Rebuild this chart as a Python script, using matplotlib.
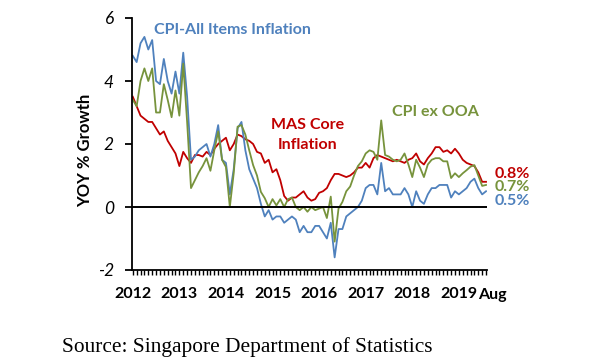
import matplotlib
matplotlib.use("Agg")
import matplotlib.pyplot as plt
import numpy as np

# monthly YoY %, Jan 2012 .. Aug 2019
cpi_all = [4.8, 4.6, 5.2, 5.4, 5.0, 5.3, 4.0, 3.9, 4.7, 4.0, 3.6, 4.3,
           3.6, 4.9, 3.5, 1.5, 1.6, 1.8, 1.9, 2.0, 1.6, 2.0, 2.6, 1.5,
           1.4, 0.4, 1.2, 2.5, 2.7, 1.8, 1.2, 0.9, 0.6, 0.1, -0.3, -0.1,
           -0.4, -0.3, -0.3, -0.5, -0.4, -0.3, -0.4, -0.8, -0.6, -0.8, -0.8, -0.6,
           -0.6, -0.8, -1.0, -0.5, -1.6, -0.7, -0.7, -0.3, -0.2, -0.1, 0.0, 0.2,
           0.6, 0.7, 0.7, 0.4, 1.4, 0.5, 0.6, 0.4, 0.4, 0.4, 0.6, 0.4,
           0.0, 0.5, 0.2, 0.1, 0.4, 0.6, 0.6, 0.7, 0.7, 0.7, 0.3, 0.5,
           0.4, 0.5, 0.6, 0.8, 0.9, 0.6, 0.4, 0.5]
mas_core = [3.5, 3.2, 2.9, 2.8, 2.7, 2.7, 2.5, 2.3, 2.4, 2.1, 1.9, 1.7,
            1.3, 1.75, 1.55, 1.4, 1.65, 1.65, 1.6, 1.75, 1.65, 1.85, 2.0, 2.1,
            2.2, 1.8, 2.0, 2.3, 2.25, 2.15, 2.1, 2.0, 1.75, 1.7, 1.4, 1.5,
            1.1, 1.2, 0.85, 0.35, 0.2, 0.3, 0.3, 0.4, 0.5, 0.3, 0.2, 0.25,
            0.45, 0.5, 0.6, 0.85, 1.05, 1.05, 1.0, 0.95, 1.0, 1.1, 1.25, 1.25,
            1.4, 1.25, 1.55, 1.65, 1.6, 1.55, 1.5, 1.45, 1.5, 1.45, 1.4, 1.5,
            1.55, 1.7, 1.45, 1.35, 1.55, 1.7, 1.9, 1.9, 1.75, 1.8, 1.7, 1.85,
            1.7, 1.5, 1.4, 1.35, 1.3, 1.1, 0.8, 0.8]
cpi_ex_ooa = [3.4, 3.2, 4.0, 4.4, 4.0, 4.4, 3.0, 3.0, 3.9, 3.4, 2.85, 3.7,
              2.9, 4.55, 2.7, 0.6, 0.85, 1.1, 1.3, 1.55, 1.15, 1.8, 2.4, 1.5,
              1.27, 0.0, 1.07, 2.55, 2.6, 2.3, 1.8, 1.33, 1.0, 0.48, 0.28, 0.0,
              0.25, 0.05, 0.25, 0.0, 0.25, 0.3, 0.0, -0.1, 0.0, -0.15, 0.0, -0.1,
              -0.05, 0.0, -0.35, 0.33, -1.1, -0.05, 0.16, 0.5, 0.65, 1.0, 1.3, 1.45,
              1.7, 1.8, 1.75, 1.5, 2.75, 1.65, 1.6, 1.5, 1.45, 1.5, 1.7, 1.35,
              0.95, 1.5, 1.25, 0.95, 1.35, 1.5, 1.55, 1.55, 1.45, 1.45, 0.92, 1.07,
              0.95, 1.07, 1.17, 1.28, 1.33, 1.0, 0.67, 0.7]
years = ["2012", "2013", "2014", "2015", "2016", "2017", "2018", "2019"]
yticks = [-2, 0, 2, 4, 6]
end_labels = ["0.8%", "0.7%", "0.5%"]

BLUE = "#4F81BD"
RED = "#C00000"
GREEN = "#77933C"
FONT = "Lato"

months = np.arange(len(cpi_all))

fig = plt.figure(figsize=(6, 3.6), dpi=100)
ax = fig.add_axes([0.22, 0.25, 0.592, 0.70])

ax.plot(months, mas_core, color=RED, lw=1.3)
ax.plot(months, cpi_all, color=BLUE, lw=1.3)
ax.plot(months, cpi_ex_ooa, color=GREEN, lw=1.3)
ax.axhline(0, color="black", lw=1.4)

ax.set_xlim(-0.2, 91.3)
ax.set_ylim(-2, 6)
for s in ["top", "right"]:
    ax.spines[s].set_visible(False)
ax.spines["left"].set_linewidth(1.3)
ax.spines["bottom"].set_linewidth(1.3)

ax.set_yticks(yticks)
ax.set_yticklabels([str(v) for v in yticks], fontsize=12.5, fontstyle="italic",
                   family=FONT)
ax.tick_params(axis="y", direction="out", length=5, width=1.3, pad=8)

xlabels = [years[m // 12] if m % 12 == 0 else "" for m in months]
ax.set_xticks(months)
ax.set_xticklabels(xlabels, fontsize=11.5, fontweight="bold", family=FONT)
ax.tick_params(axis="x", direction="out", length=3.5, width=1, pad=9)
ax.text(92.6, -0.07, "Aug", transform=ax.get_xaxis_transform(), ha="center",
        va="top", fontsize=11.5, fontweight="bold", family=FONT)

fig.text(0.142, 0.583, "YOY % Growth", rotation=90, fontsize=12,
         fontweight="bold", family=FONT, ha="center", va="center")

ax.text(5.4, 5.62, "CPI-All Items Inflation", color=BLUE, fontsize=11.5,
        fontweight="bold", family=FONT, va="center", ha="left")
ax.text(44.9, 2.28, "MAS Core\nInflation", color=RED, fontsize=11.5,
        fontweight="bold", family=FONT, va="center", ha="center",
        linespacing=1.6)
ax.text(78, 3.0, "CPI ex OOA", color=GREEN, fontsize=11.5, fontweight="bold",
        family=FONT, va="center", ha="center")

for lab, yv, c in zip(end_labels, [1.04, 0.62, 0.2], [RED, GREEN, BLUE]):
    ax.text(93.2, yv, lab, color=c, fontsize=11.5, fontweight="bold",
            family=FONT, va="center", ha="left", clip_on=False)

fig.text(0.103, 0.035, "Source: Singapore Department of Statistics",
         family="Liberation Serif", fontsize=15.4, ha="left", va="center")

fig.savefig("out.png", dpi=100)
